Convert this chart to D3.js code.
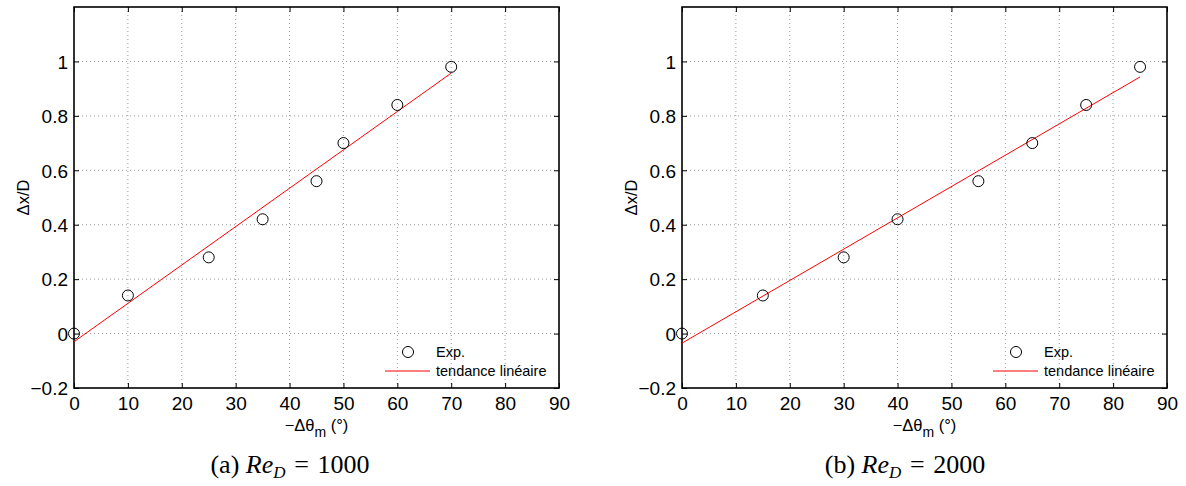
<!DOCTYPE html>
<html><head><meta charset="utf-8">
<script src="https://cdn.jsdelivr.net/npm/d3@7"></script>
<style>body{margin:0;background:#fff}svg{display:block}</style>
</head><body>
<svg id="c" width="1186" height="486"></svg>
<script>
// ---- data ----
const xTicks = [0,10,20,30,40,50,60,70,80,90];
const yTicks = [-0.2,0,0.2,0.4,0.6,0.8,1];
const yTickLabels = ["\u22120.2","0","0.2","0.4","0.6","0.8","1"];
const xA = [0,10,25,35,45,50,60,70];
const yA = [0,0.14,0.28,0.42,0.56,0.70,0.84,0.98];
const trendA = [[0,-0.030],[70,0.957]];
const xB = [0,15,30,40,55,65,75,85];
const yB = [0,0.14,0.28,0.42,0.56,0.70,0.84,0.98];
const trendB = [[0,-0.035],[85,0.943]];
const legendLabels = ["Exp.","tendance lin\u00e9aire"];
const captionA = {tag:"(a) ", value:"1000"};
const captionB = {tag:"(b) ", value:"2000"};

const svg = d3.select("#c");
const SANS = "'Liberation Sans', Arial, Helvetica, sans-serif";

function panel(left, xs, ys, trend, cap, capX) {
  const W = 485, top = 7, bottom = 388;
  const x = d3.scaleLinear().domain([0,90]).range([left, left+W]);
  const y = d3.scaleLinear().domain([-0.2,1.2]).range([bottom, top]);
  const g = svg.append("g");
  // grid
  g.selectAll(".gx").data(xTicks.slice(1,-1)).join("line")
    .attr("x1",d=>x(d)).attr("x2",d=>x(d)).attr("y1",top).attr("y2",bottom)
    .attr("stroke","#9a9a9a").attr("stroke-width",1).attr("stroke-dasharray","1,3");
  g.selectAll(".gy").data(yTicks.slice(1)).join("line")
    .attr("y1",d=>y(d)).attr("y2",d=>y(d)).attr("x1",left).attr("x2",left+W)
    .attr("stroke","#9a9a9a").attr("stroke-width",1).attr("stroke-dasharray","1,3");
  // axes with inward ticks
  const ax = g.append("g").attr("transform",`translate(0,${bottom})`)
    .call(d3.axisBottom(x).tickValues(xTicks).tickSize(-5).tickPadding(9).tickFormat(d3.format("d")));
  const axT = g.append("g").attr("transform",`translate(0,${top})`)
    .call(d3.axisTop(x).tickValues(xTicks).tickSize(-5).tickFormat(""));
  const ay = g.append("g").attr("transform",`translate(${left},0)`)
    .call(d3.axisLeft(y).tickValues(yTicks).tickSize(-5).tickPadding(6).tickFormat((d,i)=>yTickLabels[i]));
  const ayR = g.append("g").attr("transform",`translate(${left+W},0)`)
    .call(d3.axisRight(y).tickValues(yTicks).tickSize(-5).tickFormat(""));
  [ax,axT,ay,ayR].forEach(a=>{
    a.select(".domain").remove();
    a.selectAll(".tick line").attr("stroke","#000").attr("stroke-width",1);
    a.selectAll("text").attr("font-family",SANS).attr("font-size",19).attr("fill","#000");
  });
  ax.selectAll("text").attr("dy","0.71em");
  ay.selectAll("text").attr("dy","0.36em");
  // frame
  g.append("rect").attr("x",left).attr("y",top).attr("width",W).attr("height",bottom-top)
    .attr("fill","none").attr("stroke","#000").attr("stroke-width",1.6);
  // trend line
  g.append("path").datum(trend)
    .attr("d",d3.line().x(d=>x(d[0])).y(d=>y(d[1])))
    .attr("fill","none").attr("stroke","#ff0000").attr("stroke-width",1);
  // points
  g.selectAll(".pt").data(xs.map((v,i)=>[v,ys[i]])).join("circle")
    .attr("cx",d=>x(d[0])).attr("cy",d=>y(d[1])).attr("r",5.5)
    .attr("fill","none").attr("stroke","#000").attr("stroke-width",1);
  // legend
  const lx = left + W - 174;
  g.append("circle").attr("cx",lx+23).attr("cy",352).attr("r",5.5)
    .attr("fill","none").attr("stroke","#000").attr("stroke-width",1);
  g.append("text").attr("x",lx+51).attr("y",357).text(legendLabels[0])
    .attr("font-family",SANS).attr("font-size",14.5);
  g.append("line").attr("x1",lx).attr("x2",lx+45).attr("y1",371).attr("y2",371)
    .attr("stroke","#ff5555").attr("stroke-width",1.5);
  g.append("text").attr("x",lx+51).attr("y",376).text(legendLabels[1])
    .attr("font-family",SANS).attr("font-size",14.5);
  // axis labels
  const xl = g.append("text").attr("x",left+W/2).attr("y",431).attr("text-anchor","middle")
    .attr("font-family",SANS).attr("font-size",16.5);
  xl.append("tspan").text("\u2212\u0394\u03b8");
  xl.append("tspan").text("m").attr("dy",6).attr("font-size",14);
  xl.append("tspan").text(" (\u00b0)").attr("dy",-6);
  g.append("text").attr("transform",`translate(${left-45},${(top+bottom)/2}) rotate(-90)`)
    .attr("text-anchor","middle").attr("font-family",SANS).attr("font-size",16.5)
    .text("\u0394x/D");
  // caption
  const c = g.append("text").attr("x",capX).attr("y",473).attr("text-anchor","middle")
    .attr("font-family","'Liberation Serif','DejaVu Serif',serif").attr("font-size",26);
  c.append("tspan").text(cap.tag);
  c.append("tspan").text("Re").attr("font-style","italic");
  c.append("tspan").text("D").attr("font-style","italic").attr("font-size",17).attr("dy",5);
  c.append("tspan").text(" \u200a=\u200a ").attr("dy",-5);
  c.append("tspan").text(cap.value);
}

panel(74, xA, yA, trendA, captionA, 290);
panel(682, xB, yB, trendB, captionB, 905);
</script>
</body></html>
